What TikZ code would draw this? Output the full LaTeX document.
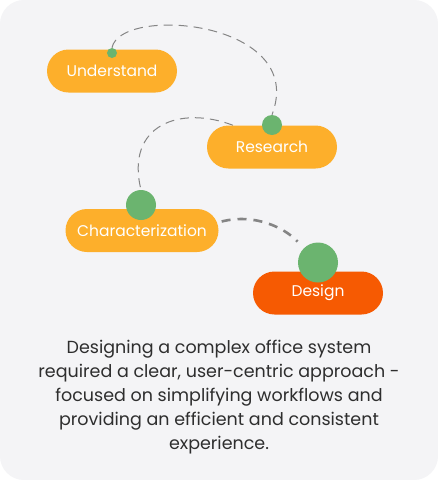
\documentclass[tikz,border=0pt]{standalone}
\usepackage{fontspec}
\setmainfont{Poppins}
\usetikzlibrary{backgrounds}
\definecolor{pillorange}{HTML}{FDAF2B}
\definecolor{designred}{HTML}{F65A02}
\definecolor{dotgreen}{HTML}{6BB46F}
\definecolor{bggray}{HTML}{F4F4F6}
\definecolor{dashgray}{HTML}{858585}
\definecolor{textgray}{HTML}{2E2E2E}

\begin{document}
\begin{tikzpicture}[x=1pt, y=-1pt,
  pill/.style={rounded corners=21.5pt, minimum width=130pt, minimum height=43pt,
    inner sep=0pt, fill=pillorange, text=white, font=\fontsize{15.5}{17}\selectfont},
  dot/.style={circle, fill=dotgreen, inner sep=0pt},
  thindash/.style={dashgray, line width=1pt, dash pattern=on 9pt off 6pt},
  thickdash/.style={dashgray, line width=2.6pt, dash pattern=on 9pt off 7pt}]
\useasboundingbox (0,0) rectangle (438,480);

% steps
\node[pill] (und) at (112,71) {Understand};
\node[pill] (res) at (272,147) {Research};
\node[pill, minimum width=153pt] (char) at (142,230.5) {Characterization};
\node[pill, fill=designred] (des) at (318,293) {Design};

% markers
\node[dot, minimum size=10pt] (udot) at (112,53) {};
\node[dot, minimum size=20pt] (rdot) at (272,125) {};
\node[dot, minimum size=30pt] (cdot) at (141,205) {};
\node[dot, minimum size=40pt] (ddot) at (318,262.5) {};

\node[text=textgray, align=center, font=\fontsize{17.5}{24}\selectfont] (txt) at (219,397.5)
  {Designing a complex office system\\
   required a clear, user-centric approach -\\
   focused on simplifying workflows and\\
   providing an efficient and consistent\\
   experience.};

\begin{pgfonlayer}{background}
\fill[white] (0,0) rectangle (438,480);
\fill[bggray, rounded corners=24pt] (0,0) rectangle (438,480);
\draw[thindash] (udot.north) .. controls (120,5) and (308,20) .. (rdot.north);
\draw[thindash] ([xshift=-39pt]res.north) .. controls (180,105) and (125,125) .. (cdot.north);
\draw[thickdash, shorten >=9pt] ([xshift=3pt,yshift=9pt]char.east) .. controls (255,213) and (285,228) .. (ddot.north west);
\end{pgfonlayer}
\end{tikzpicture}
\end{document}
